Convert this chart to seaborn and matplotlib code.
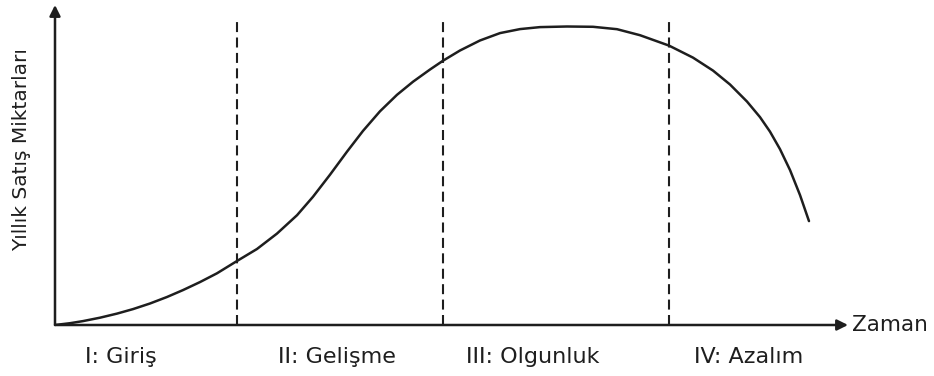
import matplotlib
matplotlib.use("Agg")
import matplotlib.pyplot as plt
import seaborn as sns
import pandas as pd

# Product life cycle: annual sales over time (arbitrary units)
time = [0.0, 1.89, 3.53, 5.67, 7.82, 9.84, 11.98, 14.12, 16.14, 18.28,
        20.43, 22.95, 25.47, 27.99, 30.52, 32.53, 34.68, 36.82, 38.84,
        40.98, 43.13, 45.15, 47.29, 48.93, 51.07, 53.59, 56.12, 58.64,
        61.16, 64.56, 67.84, 70.87, 73.77, 77.43, 80.45, 82.98, 85.12,
        87.26, 88.90, 90.16, 91.42, 92.69, 93.95, 95.08]
sales = [0.0, 0.56, 1.22, 2.28, 3.56, 4.97, 6.72, 8.75, 10.91, 13.41,
         16.16, 20.0, 23.75, 28.56, 34.31, 40.06, 46.97, 54.16, 60.66,
         66.78, 71.94, 76.03, 79.84, 82.59, 85.78, 88.91, 91.22, 92.47,
         93.09, 93.28, 93.19, 92.44, 90.56, 87.31, 83.56, 79.5, 75.16,
         69.84, 64.97, 60.44, 54.97, 48.41, 40.59, 32.47]

# Boundaries between the stages
stage_bounds = [23.0, 48.9, 77.4]
stage_names = ["I: Giriş", "II: Gelişme", "III: Olgunluk", "IV: Azalım"]
stage_label_x = [8.3, 35.6, 60.2, 87.5]

x_label = "Zaman"
y_label = "Yıllık Satış Miktarları"

df = pd.DataFrame({"time": time, "sales": sales})

sns.set_theme(style="white")
plt.rcParams["font.family"] = ["DejaVu Sans"]

ink = "#1e1e1e"
W, H = 934, 376
fig = plt.figure(figsize=(W / 100, H / 100), dpi=100)
ax = fig.add_axes([55 / W, (H - 325) / H, (848 - 55) / W, (325 - 5) / H])
ax.set_xlim(0, 100)
ax.set_ylim(0, 100)

sns.lineplot(data=df, x="time", y="sales", sort=False, color=ink,
             linewidth=1.8, ax=ax)
ax.lines[-1].set_solid_joinstyle("round")
ax.lines[-1].set_solid_capstyle("round")

for b in stage_bounds:
    ax.axvline(b, ymin=0, ymax=0.96, color=ink, linewidth=1.5,
               linestyle=(0, (4.8, 2.6)))

# Axes drawn as arrows
for s in ax.spines.values():
    s.set_visible(False)
ax.set_xticks([])
ax.set_yticks([])
ax.set_xlabel("")
ax.set_ylabel("")
arrow = dict(arrowstyle="-|>", lw=1.8, color=ink, mutation_scale=16,
             shrinkA=0, shrinkB=0)
ax.annotate("", xy=(1.0, 0.0), xytext=(0.0, 0.0), xycoords="axes fraction",
            arrowprops=arrow, annotation_clip=False)
ax.annotate("", xy=(0.0, 1.0), xytext=(0.0, 0.0), xycoords="axes fraction",
            arrowprops=arrow, annotation_clip=False)

ax.text(100.5, 0, x_label, ha="left", va="center", fontsize=15.5,
        color=ink, clip_on=False)
ax.text(-4.2, 54.7, y_label, ha="center", va="center", rotation=90,
        fontsize=14.5, color=ink, clip_on=False)

for name, lx in zip(stage_names, stage_label_x):
    ax.text(lx, -10, name, ha="center", va="center", fontsize=16,
            color=ink, clip_on=False)

fig.savefig("out.png", dpi=100, facecolor="white")
